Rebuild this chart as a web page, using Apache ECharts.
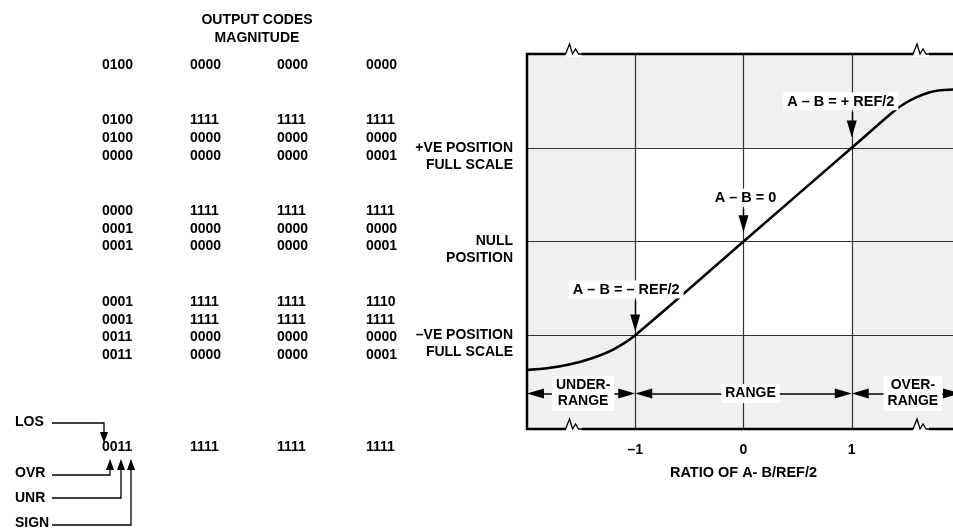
<!DOCTYPE html>
<html>
<head>
<meta charset="utf-8">
<script src="https://cdn.jsdelivr.net/npm/echarts@6/dist/echarts.min.js"></script>
<style>html,body{margin:0;padding:0;background:#fff}#c{width:953px;height:530px}</style>
</head>
<body>
<div id="c"></div>
<script>
// ---------- data ----------
const curveX = [-2, -1.8, -1.6, -1.4, -1.2, -1, 0, 1, 1.4, 1.5, 1.6, 1.7, 1.8, 2];
const curveY = [-1.37, -1.35, -1.31, -1.245, -1.15, -1, 0, 1, 1.4, 1.48, 1.54, 1.585, 1.61, 1.625];

const xTickValues = [-1, 0, 1];
const xTickLabels = ['–1', '0', '1'];
const xAxisName = 'RATIO OF A- B/REF/2';

const yLevelValues = [1, 0, -1];
const yLevelLabels = ['+VE POSITION\nFULL SCALE', 'NULL\nPOSITION', '–VE POSITION\nFULL SCALE'];

const annX = [1, 0, -1];
const annY = [1, 0, -1];
const annText = ['A – B = + REF/2', 'A – B = 0', 'A – B = – REF/2'];

const rangeBounds = [-2, -1, 1, 2];
const rangeLabels = ['UNDER-\nRANGE', 'RANGE', 'OVER-\nRANGE'];
const rangeLevel = -1.62;

const breakX = [-1.57, 1.64];
const breakY = [2, -2];

const codeHeader = ['OUTPUT CODES', 'MAGNITUDE'];
const codeGroups = [
  [['0100', '0000', '0000', '0000']],
  [['0100', '1111', '1111', '1111'], ['0100', '0000', '0000', '0000'], ['0000', '0000', '0000', '0001']],
  [['0000', '1111', '1111', '1111'], ['0001', '0000', '0000', '0000'], ['0001', '0000', '0000', '0001']],
  [['0001', '1111', '1111', '1110'], ['0001', '1111', '1111', '1111'], ['0011', '0000', '0000', '0000'], ['0011', '0000', '0000', '0001']],
  [['0011', '1111', '1111', '1111']]
];
const bitLabels = ['LOS', 'OVR', 'UNR', 'SIGN'];

// ---------- layout / style ----------
const FONT = '"Liberation Sans", Arial, Helvetica, sans-serif';
const GRAY = '#eff0f2';
const GRID = {left: 527, top: 54, width: 433, height: 375};
const X_SPAN = 4;
const unitPx = GRID.width / X_SPAN;
const unitPy = GRID.height / 4;
const HEAD_W = 10, HEAD_L = 17;          // arrow head size (px)
const headX = (HEAD_L / 2) / unitPx;     // half head length in x units
const headY = (HEAD_L / 2) / unitPy;     // half head length in y units
const groupTop = [65.5, 120.5, 211, 302, 447];
const rowStep = 17.8;
const colX = [102, 190, 277, 366];
const annStartOff = [0.38, 0.35, 0.37];
const annTipOff = [0.11, 0.10, 0.04];
const annLabelDx = [-11, 2, -9];
const rangeLabelDx = [2, 7, 7];

const chart = echarts.init(document.getElementById('c'), null, {renderer: 'canvas'});

const curveData = curveX.map((x, i) => [x, curveY[i]]);

const labelMap = {};
yLevelValues.forEach((v, i) => { labelMap[v] = ' \n' + yLevelLabels[i]; });
const xLabelMap = {};
xTickValues.forEach((v, i) => { xLabelMap[v] = xTickLabels[i]; });

// graphic items for the code table
const graphics = [];
codeHeader.forEach((t, i) => {
  graphics.push({type: 'text', x: 257, y: 20 + i * 18, style: {text: t, fill: '#000', font: 'bold 14px ' + FONT, textAlign: 'center', textVerticalAlign: 'middle'}});
});
codeGroups.forEach((g, gi) => {
  g.forEach((row, ri) => {
    row.forEach((cell, ci) => {
      graphics.push({type: 'text', x: colX[ci], y: groupTop[gi] + ri * rowStep,
        style: {text: cell, fill: '#000', font: 'bold 14px ' + FONT, textAlign: 'left', textVerticalAlign: 'middle'}});
    });
  });
});
// bit pointer labels
const bitTextY = [422, 473, 498, 523];
const bitLineY = [423, 475, 498, 525];
const bitArrowX = [104, 110, 121, 131];
bitLabels.forEach((t, i) => {
  graphics.push({type: 'text', x: 15, y: bitTextY[i], style: {text: t, fill: '#000', font: 'bold 14px ' + FONT, textAlign: 'left', textVerticalAlign: 'middle'}});
  const ax = bitArrowX[i];
  if (i === 0) {
    graphics.push({type: 'polyline', shape: {points: [[52, bitLineY[i]], [ax, bitLineY[i]], [ax, 433]]}, style: {stroke: '#000', lineWidth: 1.3, fill: null}});
    graphics.push({type: 'polygon', shape: {points: [[ax - 4, 432], [ax + 4, 432], [ax, 443]]}, style: {fill: '#000'}});
  } else {
    graphics.push({type: 'polyline', shape: {points: [[52, bitLineY[i]], [ax, bitLineY[i]], [ax, 469]]}, style: {stroke: '#000', lineWidth: 1.3, fill: null}});
    graphics.push({type: 'polygon', shape: {points: [[ax - 4, 470], [ax + 4, 470], [ax, 459]]}, style: {fill: '#000'}});
  }
});

const annLines = annX.map((x, i) => [
  {coord: [x, annY[i] + annStartOff[i]], symbol: 'none',
   label: {show: true, position: 'start', formatter: annText[i], distance: 2, offset: [annLabelDx[i], 0],
     color: '#000', fontWeight: 'bold', fontSize: 14.5, fontFamily: FONT, backgroundColor: '#fff', padding: [2, 4, 1, 4]}},
  {coord: [x, annY[i] + annTipOff[i] + headY], symbol: 'triangle'}
]);

const rangeLines = rangeLabels.map((t, i) => [
  {coord: [rangeBounds[i] + headX, rangeLevel],
   label: {show: true, position: 'insideMiddle', formatter: t, color: '#000', fontWeight: 'bold', fontSize: 14,
     fontFamily: FONT, lineHeight: 16, backgroundColor: '#fff', padding: [2, 4, 1, 4], distance: 0,
     offset: [rangeLabelDx[i], 0]}},
  {coord: [rangeBounds[i + 1] - headX, rangeLevel]}
]);

const option = {
  animation: false,
  grid: Object.assign({show: true, z: 10, borderColor: '#000', borderWidth: 2.5, backgroundColor: 'transparent',
    outerBoundsMode: 'none', containLabel: false}, GRID),
  xAxis: {
    type: 'value', min: -2, max: 2, interval: 1,
    axisLine: {show: false}, axisTick: {show: false}, splitLine: {show: false},
    axisLabel: {formatter: v => xLabelMap[v] || '', color: '#000', fontWeight: 'bold', fontSize: 14, fontFamily: FONT, margin: 14},
    name: xAxisName, nameLocation: 'middle', nameGap: 36,
    nameTextStyle: {color: '#000', fontWeight: 'bold', fontSize: 14.5, fontFamily: FONT}
  },
  yAxis: {
    type: 'value', min: -2, max: 2, interval: 1,
    axisLine: {show: false}, axisTick: {show: false}, splitLine: {show: false},
    axisLabel: {formatter: v => labelMap[v] || '', color: '#000', fontWeight: 'bold', fontSize: 14, fontFamily: FONT,
      lineHeight: 17, align: 'right', margin: 14}
  },
  graphic: graphics,
  series: [
    {
      type: 'line', data: [[-2, -2]], showSymbol: false, lineStyle: {width: 0}, silent: true, z: 1,
      markArea: {silent: true, z: 1, data: [
        [{coord: [-2, -2], itemStyle: {color: GRAY}}, {coord: [2, 2]}],
        [{coord: [-1, -1], itemStyle: {color: '#fff'}}, {coord: [1, 1]}]
      ]},
      markLine: {silent: true, z: 3, symbol: ['none', 'none'], label: {show: false},
        lineStyle: {type: 'solid', color: '#333', width: 1.2},
        data: xTickValues.map(v => ({xAxis: v})).concat(yLevelValues.map(v => ({yAxis: v})))}
    },
    {
      type: 'line', data: curveData, showSymbol: false, smooth: 0.3, z: 4,
      lineStyle: {color: '#000', width: 2.6}, silent: true
    },
    {
      type: 'line', data: [[-2, -2]], showSymbol: false, lineStyle: {width: 0}, silent: true, z: 6,
      markLine: {silent: true, z: 6, symbol: ['none', 'triangle'], symbolSize: [HEAD_W, HEAD_L],
        lineStyle: {type: 'solid', color: '#000', width: 1.4}, data: annLines}
    },
    {
      type: 'line', data: [[-2, -2]], showSymbol: false, lineStyle: {width: 0}, silent: true, z: 6,
      markLine: {silent: true, z: 6, symbol: ['triangle', 'triangle'], symbolSize: [HEAD_W, HEAD_L],
        lineStyle: {type: 'solid', color: '#000', width: 1.6}, data: rangeLines}
    },
    {
      type: 'custom', z: 12, clip: false, silent: true,
      data: breakX.flatMap(x => breakY.map(y => [x, y])),
      renderItem: (params, api) => {
        const p = api.coord([api.value(0), api.value(1)]);
        const pts = [[-10, 0], [-8, 0], [-4, -10], [-1, 0], [2, -5], [5, 0], [8, 0], [10, 0]]
          .map(d => [p[0] + d[0], p[1] + d[1]]);
        return {type: 'group', children: [
          {type: 'rect', shape: {x: p[0] - 8, y: p[1] - 3, width: 16, height: 6}, style: {fill: '#fff'}},
          {type: 'polyline', shape: {points: pts}, style: {stroke: '#000', lineWidth: 1.3, fill: null}}
        ]};
      }
    }
  ]
};
chart.setOption(option);
</script>
</body>
</html>
